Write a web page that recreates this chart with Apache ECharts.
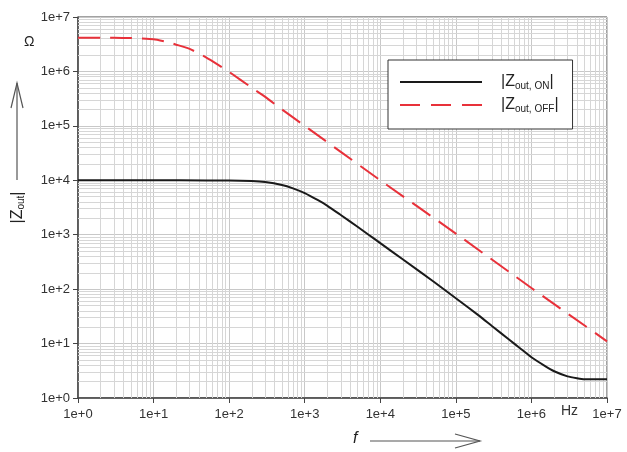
<!DOCTYPE html>
<html><head><meta charset="utf-8">
<script src="https://cdn.jsdelivr.net/npm/echarts@6/dist/echarts.min.js"></script>
<style>html,body{margin:0;padding:0;background:#fff}#c{width:627px;height:452px}</style>
</head><body><div id="c"></div>
<script>
// ---- data ----
const xTickLabels = ['1e+0','1e+1','1e+2','1e+3','1e+4','1e+5','1e+6','1e+7'];
const yTickLabels = ['1e+0','1e+1','1e+2','1e+3','1e+4','1e+5','1e+6','1e+7'];
const seriesNames = ['|Zout, ON|', '|Zout, OFF|'];
const freqOn = [1, 10, 50, 100, 200, 300, 500, 700, 1000, 1500, 2000, 3000, 5000, 7000, 1e4, 2e4, 5e4, 1e5, 2e5, 3e5, 5e5, 7e5, 1e6, 1.5e6, 2e6, 3e6, 4e6, 5e6, 7e6, 1e7];
const zOn    = [10000, 10000, 9950, 9900, 9700, 9300, 8200, 7100, 5800, 4300, 3400, 2300, 1400, 1000, 700, 350, 140, 68, 33, 21, 12, 8.3, 5.6, 3.9, 3.1, 2.5, 2.3, 2.2, 2.2, 2.2];
const freqOff = [1, 3, 5, 10, 15, 20, 30, 50, 70, 100, 200, 300, 500, 1000, 1e4, 1e5, 1e6, 1e7];
const zOff    = [4.15e6, 4.15e6, 4.1e6, 3.9e6, 3.5e6, 3.1e6, 2.6e6, 1.8e6, 1.35e6, 9.8e5, 5.0e5, 3.4e5, 2.0e5, 1.0e5, 1.0e4, 1.05e3, 105, 11];

// minor grid positions (2..9 x 10^k)
const minorX = [], minorY = [];
for (let k = 0; k < 7; k++) for (let m = 2; m <= 9; m++) { minorX.push(m * Math.pow(10, k)); minorY.push(m * Math.pow(10, k)); }

const FONT = 'Liberation Sans, Arial, sans-serif';
const RED = '#e8313a', BLACK = '#1a1a1a';
const chart = echarts.init(document.getElementById('c'));
const lbl = (arr) => (v) => arr[Math.round(Math.log10(v))];

chart.setOption({
  animation: false,
  textStyle: { fontFamily: FONT },
  grid: { left: 78, right: 20, top: 17, bottom: 54, show: true, borderColor: '#444', borderWidth: 1, backgroundColor: 'transparent' },
  xAxis: {
    type: 'log', logBase: 10, min: 1, max: 1e7,
    axisLine: { show: true, lineStyle: { color: '#444', width: 1.5 } },
    axisTick: { show: true, length: 5, lineStyle: { color: '#444' } },
    axisLabel: { formatter: lbl(xTickLabels), fontSize: 13, color: '#333', margin: 10 },
    splitLine: { show: true, lineStyle: { color: '#c8c8c8', width: 1 } }
  },
  yAxis: {
    type: 'log', logBase: 10, min: 1, max: 1e7,
    axisLine: { show: true, lineStyle: { color: '#444', width: 1.5 } },
    axisTick: { show: true, length: 5, lineStyle: { color: '#444' } },
    axisLabel: { formatter: lbl(yTickLabels), fontSize: 13, color: '#333', margin: 8 },
    splitLine: { show: true, lineStyle: { color: '#c8c8c8', width: 1 } },
    name: '{m||Z}{s|out}{m||}', nameLocation: 'middle', nameRotate: 90, nameGap: 52,
    nameTextStyle: { rich: { m: { fontSize: 16, color: '#222', fontFamily: FONT }, s: { fontSize: 10, color: '#222', fontFamily: FONT, verticalAlign: 'bottom', lineHeight: 12 } } }
  },
  legend: {
    orient: 'vertical', left: 388, top: 60, z: 20, zlevel: 0,
    padding: [14, 14, 15, 12], itemGap: 6, itemWidth: 82, itemHeight: 2,
    backgroundColor: '#fff', borderColor: '#333', borderWidth: 1, borderRadius: 0,
    data: [
      { name: seriesNames[0], icon: 'rect', itemStyle: { color: BLACK, opacity: 1 } },
      { name: seriesNames[1], icon: 'path://M0,0h20v2h-20zM31,0h20v2h-20zM62,0h20v2h-20z', itemStyle: { color: RED, opacity: 1 } }
    ],
    formatter: (n) => n === seriesNames[0] ? '{m||Z}{s|out, ON}{m||}' : '{m||Z}{s|out, OFF}{m||}',
    textStyle: { padding: [0, 0, 0, 14], rich: { m: { fontSize: 16, color: '#222', fontFamily: FONT, lineHeight: 18 }, s: { fontSize: 10, color: '#222', fontFamily: FONT, verticalAlign: 'bottom', lineHeight: 12 } } }
  },
  series: [
    {
      name: seriesNames[0], type: 'line', showSymbol: false, symbol: 'none', smooth: 0.15,
      data: freqOn.map((f, i) => [f, zOn[i]]),
      lineStyle: { color: BLACK, width: 2 }, itemStyle: { color: BLACK }, z: 5,
      markLine: {
        silent: true, symbol: 'none', label: { show: false }, animation: false,
        lineStyle: { color: '#d6d6d6', width: 1, type: 'solid' },
        data: minorX.map(v => ({ xAxis: v })).concat(minorY.map(v => ({ yAxis: v })))
      }
    },
    {
      name: seriesNames[1], type: 'line', showSymbol: false, symbol: 'none', smooth: 0.15,
      data: freqOff.map((f, i) => [f, zOff[i]]),
      lineStyle: { color: RED, width: 2, type: [22, 10] }, itemStyle: { color: RED }, z: 5
    }
  ],
  graphic: [
    { type: 'text', left: 24, top: 35, style: { text: 'Ω', fontSize: 14, fill: '#222', fontFamily: FONT } },
    { type: 'text', left: 561, top: 404, style: { text: 'Hz', fontSize: 14, fill: '#333', fontFamily: FONT } },
    { type: 'text', left: 353, top: 431, style: { text: 'f', fontSize: 16, fontStyle: 'italic', fill: '#222', fontFamily: FONT } },
    { type: 'polyline', shape: { points: [[370, 441], [480, 441]] }, style: { stroke: '#555', lineWidth: 1.2 } },
    { type: 'polyline', shape: { points: [[455, 434], [480, 441], [455, 448]] }, style: { stroke: '#555', lineWidth: 1.2, fill: null } },
    { type: 'polyline', shape: { points: [[17, 180], [17, 83]] }, style: { stroke: '#555', lineWidth: 1.2 } },
    { type: 'polyline', shape: { points: [[11, 108], [17, 83], [23, 108]] }, style: { stroke: '#555', lineWidth: 1.2, fill: null } }
  ]
});
</script></body></html>
